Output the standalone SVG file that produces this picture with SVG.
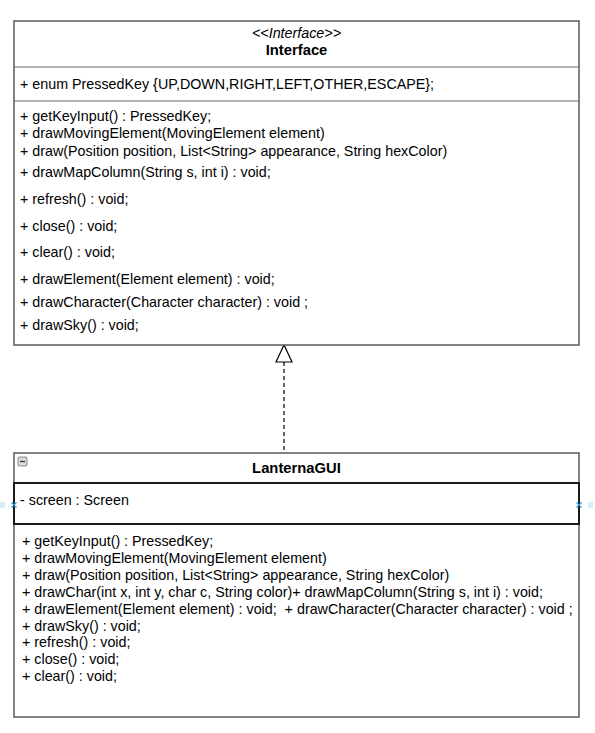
<svg xmlns="http://www.w3.org/2000/svg" width="595" height="733" viewBox="0 0 595 733">
<style>
.box{fill:#fff;stroke:#5a5a5a;stroke-width:1.5}
.div{stroke:#6a6a6a;stroke-width:1.2}
.sel{stroke:#1a1a1a;stroke-width:2;fill:none}
text{font-family:"Liberation Sans",Arial,sans-serif;font-size:14.3px;fill:#000}
.b{font-weight:bold;font-size:14.8px}
.i{font-style:italic}
.conn{stroke:#000;stroke-width:1.2;fill:none}
</style>
<rect width="595" height="733" fill="#fff"/>
<g id="connectors">
<line class="conn" x1="284" y1="362" x2="284" y2="453" stroke-dasharray="4,3"/>
<polygon points="284,345 276,362 292,362" fill="#fff" stroke="#000" stroke-width="1.2"/>
</g>
<g id="Interface">
<rect class="box" x="14" y="21" width="565" height="324"/>
<line class="div" x1="14" y1="67" x2="579" y2="67"/>
<line class="div" x1="14" y1="101" x2="579" y2="101"/>
<text class="i" x="296.5" y="37.5" text-anchor="middle">&lt;&lt;Interface&gt;&gt;</text>
<text class="b" x="296.5" y="54.5" text-anchor="middle">Interface</text>
<text x="20" y="89">+ enum PressedKey {UP,DOWN,RIGHT,LEFT,OTHER,ESCAPE};</text>
<text x="20" y="121">+ getKeyInput() : PressedKey;</text>
<text x="20" y="138">+ drawMovingElement(MovingElement element)</text>
<text x="20" y="156">+ draw(Position position, List&lt;String&gt; appearance, String hexColor)</text>
<text x="20" y="177">+ drawMapColumn(String s, int i) : void;</text>
<text x="20" y="204">+ refresh() : void;</text>
<text x="20" y="231">+ close() : void;</text>
<text x="20" y="257">+ clear() : void;</text>
<text x="20" y="284">+ drawElement(Element element) : void;</text>
<text x="20" y="307">+ drawCharacter(Character character) : void ;</text>
<text x="20" y="330">+ drawSky() : void;</text>
</g>
<g id="LanternaGUI">
<rect class="box" x="14" y="453" width="565" height="264"/>
<rect class="sel" x="14" y="483" width="565" height="41"/>
<rect x="18" y="457" width="9" height="9" rx="1" fill="#d8d8d8" stroke="#777" stroke-width="0.8"/>
<line x1="20" y1="461.5" x2="25" y2="461.5" stroke="#333" stroke-width="1.2"/>
<text class="b" x="296.5" y="472.5" text-anchor="middle">LanternaGUI</text>
<text x="20" y="505">- screen : Screen</text>
<text x="22" y="546">+ getKeyInput() : PressedKey;</text>
<text x="22" y="563">+ drawMovingElement(MovingElement element)</text>
<text x="22" y="580">+ draw(Position position, List&lt;String&gt; appearance, String hexColor)</text>
<text x="22" y="596.5">+ drawChar(int x, int y, char c, String color)+ drawMapColumn(String s, int i) : void;</text>
<text x="22" y="613.5" xml:space="preserve">+ drawElement(Element element) : void;  + drawCharacter(Character character) : void ;</text>
<text x="22" y="630.5">+ drawSky() : void;</text>
<text x="22" y="647">+ refresh() : void;</text>
<text x="22" y="664">+ close() : void;</text>
<text x="22" y="680.5">+ clear() : void;</text>
<rect x="0" y="502" width="5" height="6" fill="#d6eefa"/>
<rect x="588" y="502" width="5" height="6" fill="#d6eefa"/>
<path d="M11.5,502.5 l5,5 M16.5,502.5 l-5,5 M576.5,502.5 l5,5 M581.5,502.5 l-5,5" stroke="#29a3e0" stroke-width="1.3"/>
</g>
</svg>
